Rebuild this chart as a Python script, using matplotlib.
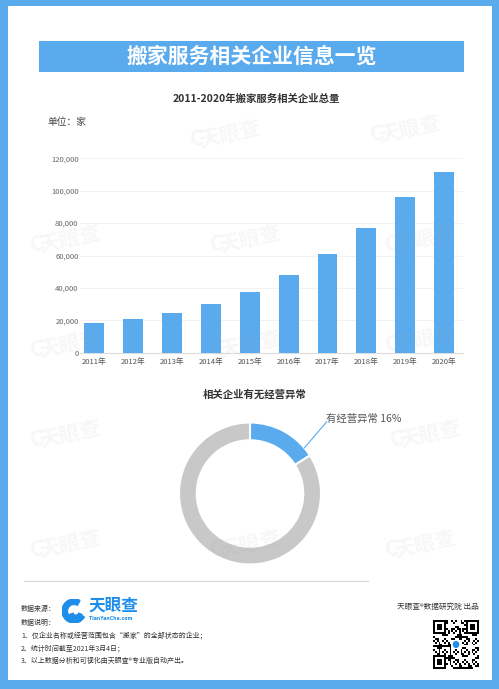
import matplotlib
matplotlib.use("Agg")
import matplotlib.pyplot as plt
import numpy as np
from matplotlib.patches import Rectangle, Circle, Wedge

plt.rcParams['font.family'] = ['Noto Sans CJK SC', 'DejaVu Sans']

# ---------------- data ----------------
years = ['2011年', '2012年', '2013年', '2014年', '2015年',
         '2016年', '2017年', '2018年', '2019年', '2020年']
counts = [18200, 20600, 24300, 30100, 37700, 48200, 61000, 77000, 96400, 111400]
yticks = [0, 20000, 40000, 60000, 80000, 100000, 120000]

donut_labels = ['有经营异常', '无经营异常']
donut_values = [16, 84]

notes = ['1、仅企业名称或经营范围包含“搬家”的全部状态的企业；',
         '2、统计时间截至2021年3月4日；',
         '3、以上数据分析和可视化由天眼查®专业版自动产出。']

W, H = 499, 689
BLUE = '#5AABEE'
fig = plt.figure(figsize=(W / 100, H / 100), dpi=100)
fig.patch.set_facecolor(BLUE)


def fx(x):
    return x / W


def fy(y):
    return 1 - y / H


def rect_px(x0, y0, x1, y1, **kw):
    r = Rectangle((fx(x0), fy(y1)), (x1 - x0) / W, (y1 - y0) / H,
                  transform=fig.transFigure, **kw)
    fig.add_artist(r)
    return r


def txt(x, y, s, **kw):
    return fig.text(fx(x), fy(y), s, **kw)


# white page
rect_px(8, 6, 492, 680, facecolor='white', edgecolor='none', zorder=-3)

# faint watermarks
wm_pos = [(230, 135), (410, 130), (70, 240), (250, 240), (425, 240),
          (70, 345), (250, 345), (425, 340), (70, 435), (430, 435),
          (70, 545), (250, 545), (425, 545)]
for (x, y) in wm_pos:
    txt(x, y, '天眼查', fontsize=15, color='#9a9a9a', alpha=0.08, rotation=12,
        ha='center', va='center', fontweight='bold', zorder=5)
    txt(x - 33, y + 4, 'C', fontsize=15, color='#9a9a9a', alpha=0.08, rotation=12,
        ha='center', va='center', fontweight='bold', zorder=5)

# title banner
rect_px(39, 41, 464, 72, facecolor=BLUE, edgecolor='none', zorder=1)
txt(251.5, 56.5, '搬家服务相关企业信息一览', fontsize=15, color='white',
    fontweight='bold', ha='center', va='center', zorder=2)

# ---------------- bar chart ----------------
txt(256, 99, '2011-2020年搬家服务相关企业总量', fontsize=7.5, color='#333333',
    fontweight='bold', ha='center', va='center')
txt(47, 122, '单位：家', fontsize=7, color='#444444', ha='left', va='center')

ax_l, ax_r, ax_t, ax_b = 80, 463.4, 158.3, 352.7
ax = fig.add_axes([fx(ax_l), fy(ax_b), (ax_r - ax_l) / W, (ax_b - ax_t) / H])
ax.set_facecolor('none')
x = np.arange(len(years))
ax.bar(x, counts, width=0.51, color=BLUE, zorder=3)
ax.set_xlim(-0.37, len(years) - 0.5)
ax.set_ylim(0, 120000)
ax.set_yticks(yticks)
ax.set_yticklabels([f'{v:,}' for v in yticks])
ax.set_xticks(x)
ax.set_xticklabels(years)
ax.tick_params(axis='y', length=0, pad=1, labelsize=5.5, labelcolor='#666666')
ax.tick_params(axis='x', length=0, pad=3.5, labelsize=5.5, labelcolor='#555555')
for lab in ax.get_xticklabels() + ax.get_yticklabels():
    lab.set_family(['Noto Sans CJK SC', 'DejaVu Sans'])
ax.grid(axis='y', color='#f0f0f0', linewidth=0.6, zorder=0)
for s in ['top', 'right', 'left']:
    ax.spines[s].set_visible(False)
ax.spines['bottom'].set_color('#dddddd')
ax.spines['bottom'].set_linewidth(0.8)

# ---------------- donut ----------------
txt(255, 394, '相关企业有无经营异常', fontsize=7.5, color='#333333',
    fontweight='bold', ha='center', va='center')
cx, cy, R = 250, 493.5, 71
dax = fig.add_axes([fx(cx - R), fy(cy + R), 2 * R / W, 2 * R / H])
dax.set_facecolor('none')
dax.pie(donut_values, colors=[BLUE, '#C8C8C8'], startangle=90, counterclock=False,
        radius=1.0, wedgeprops=dict(width=0.25, edgecolor='white', linewidth=1.5))
dax.set_xlim(-1, 1)
dax.set_ylim(-1, 1)
dax.set_aspect('auto')
dax.axis('off')
ang = np.deg2rad(40)
dax.plot([np.cos(ang) * 1.0, 1.08], [np.sin(ang) * 1.0, 1.01], color=BLUE,
         linewidth=0.8, clip_on=False)
txt(326, 419, f'{donut_labels[0]} {donut_values[0]}%', fontsize=7.5, color='#555555',
    ha='left', va='center')

# separator
fig.add_artist(plt.Line2D([fx(24), fx(368)], [fy(581), fy(581)],
                          transform=fig.transFigure, color='#d5d5d5', linewidth=0.8))

# ---------------- footer ----------------
small = dict(fontsize=5, color='#333333', ha='left', va='center')
txt(21, 609, '数据来源：', **small)
txt(21, 623, '数据说明：', **small)
for i, line in enumerate(notes):
    txt(21, 636 + i * 12.5, line, **small)

# logo
lax = fig.add_axes([fx(62), fy(623), 24 / W, 24 / H])
lax.set_xlim(-1, 1)
lax.set_ylim(-1, 1)
lax.axis('off')
lax.add_patch(Wedge((0, 0), 1.0, 60, 330, width=0.45, color='#1E8EEB'))
lax.add_patch(Wedge((0.15, -0.1), 0.55, 200, 340, width=0.3, color='#1E8EEB'))
txt(88, 606, '天眼查', fontsize=12, color='#1E8EEB', fontweight='bold',
    ha='left', va='center')
txt(89, 619, 'TianYanCha.com', fontsize=3.3, color='#1E8EEB', fontweight='bold',
    ha='left', va='center', family='DejaVu Sans')

txt(479, 607, '天眼查®数据研究院 出品', fontsize=5.5, color='#333333',
    ha='right', va='center')

# QR-like code (decorative, deterministic)
n = 25
qr = np.zeros((n, n))
for i in range(n):
    for j in range(n):
        qr[i, j] = 1 if ((i * 7 + j * 13 + (i * j) % 11) % 5) < 2 else 0
for (r0, c0) in [(0, 0), (0, n - 7), (n - 7, 0)]:
    qr[r0:r0 + 7, c0:c0 + 7] = 1
    qr[r0 + 1:r0 + 6, c0 + 1:c0 + 6] = 0
    qr[r0 + 2:r0 + 5, c0 + 2:c0 + 5] = 1
qax = fig.add_axes([fx(433), fy(669), 46 / W, 49 / H])
qax.imshow(1 - qr, cmap='gray', interpolation='nearest', aspect='auto')
qax.add_patch(Rectangle((9.5, 9.5), 5, 5, facecolor='white', edgecolor='none'))
qax.add_patch(Circle((12, 12), 1.8, facecolor='#1E8EEB', edgecolor='none'))
qax.axis('off')

fig.savefig('out.png', dpi=100, facecolor=fig.get_facecolor())
